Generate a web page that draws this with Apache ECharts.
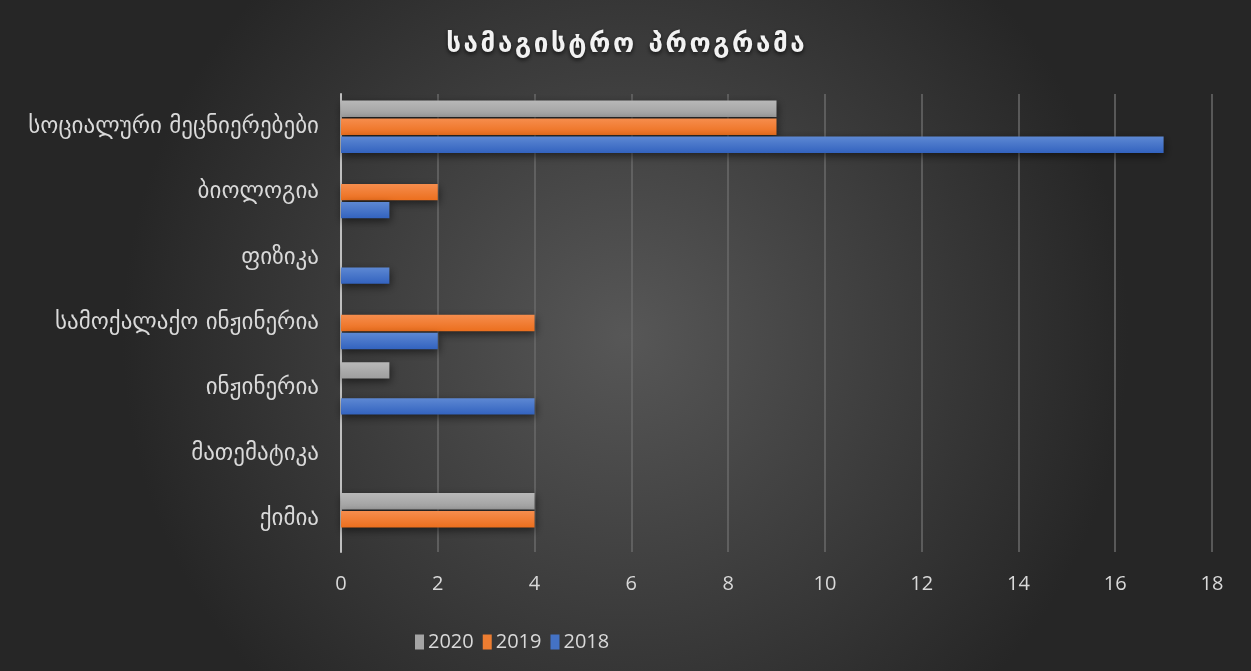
<!DOCTYPE html>
<html><head><meta charset="utf-8">
<script src="https://cdn.jsdelivr.net/npm/echarts@6/dist/echarts.min.js"></script>
<style>html,body{margin:0;padding:0;background:#333;}#c{width:1251px;height:671px;}</style>
</head><body><div id="c"></div>
<script>
const categories = ['ქიმია','მათემატიკა','ინჟინერია','სამოქალაქო ინჟინერია','ფიზიკა','ბიოლოგია','სოციალური მეცნიერებები'];
const seriesNames = ['2020','2019','2018'];
const values2018 = [0,0,4,2,1,1,17];
const values2019 = [4,0,0,4,0,2,9];
const values2020 = [4,0,1,0,0,0,9];
const xTicks = {min:0,max:18,interval:2};
const title = 'სამაგისტრო პროგრამა';

function grad(top,bottom){
  return new echarts.graphic.LinearGradient(0,0,0,1,[{offset:0,color:top},{offset:1,color:bottom}]);
}
const colors = {
  '2018': grad('#5d88d3','#3363bf'),
  '2019': grad('#f68d4d','#ec6f1e'),
  '2020': grad('#b8b8b8','#9e9e9e')
};
const legendColors = {'2018':'#4472c4','2019':'#ed7d31','2020':'#a5a5a5'};
const dataMap = {'2018':values2018,'2019':values2019,'2020':values2020};
const spacedTitle = Array.from(title).join('\u200A');
const numFont = "'Open Sans', sans-serif";

const chart = echarts.init(document.getElementById('c'));
chart.setOption({
  backgroundColor: new echarts.graphic.RadialGradient(0.5,0.5,0.75,[{offset:0,color:'#575757'},{offset:1,color:'#262626'}]),
  title:{text:spacedTitle,left:'center',top:27,textStyle:{color:'#f2f2f2',fontSize:26,fontWeight:'bold',fontFamily:'DejaVu Sans',textShadowColor:'rgba(0,0,0,0.7)',textShadowBlur:4,textShadowOffsetY:2}},
  legend:{data:seriesNames.map(n=>({name:n,itemStyle:{color:legendColors[n],shadowBlur:0,shadowColor:'transparent'}})),
    top:627,left:410,itemWidth:9,itemHeight:15,itemGap:9,icon:'rect',
    textStyle:{color:'#d9d9d9',fontSize:20,fontFamily:numFont,padding:[0,0,0,-1]}},
  grid:{left:341,right:39,top:94,bottom:119,containLabel:false},
  xAxis:{type:'value',min:xTicks.min,max:xTicks.max,interval:xTicks.interval,
    axisLine:{show:false},axisTick:{show:false},
    axisLabel:{color:'#d9d9d9',fontSize:20,margin:22,fontFamily:numFont},
    splitLine:{lineStyle:{color:'#6a6a6a',width:1.5}}},
  yAxis:{type:'category',data:categories,
    axisLine:{lineStyle:{color:'#bfbfbf',width:2}},axisTick:{show:false},
    axisLabel:{color:'#d9d9d9',fontSize:23,margin:22,fontFamily:'DejaVu Sans'}},
  series: seriesNames.map(n=>({
    name:n,type:'bar',data:dataMap[n],barGap:'10%',barCategoryGap:'20%',
    itemStyle:{color:colors[n],shadowColor:'rgba(0,0,0,0.55)',shadowBlur:8,shadowOffsetY:3,shadowOffsetX:1},
    emphasis:{disabled:true}
  }))
});
</script></body></html>
